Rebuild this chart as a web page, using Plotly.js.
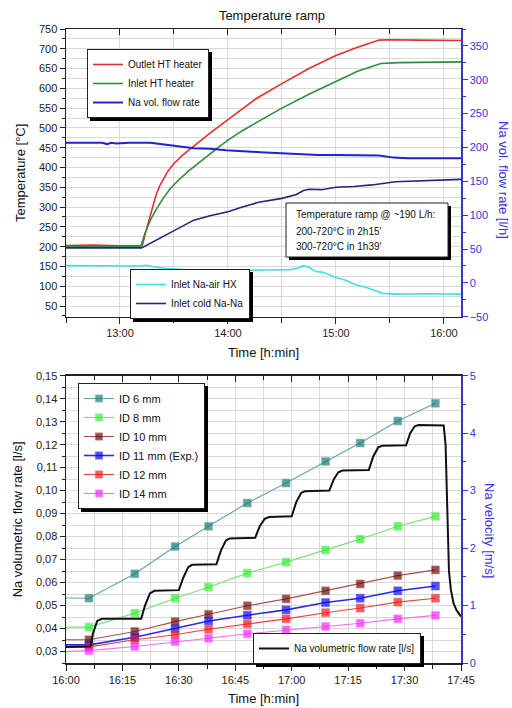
<!DOCTYPE html>
<html><head><meta charset="utf-8">
<script src="https://cdn.plot.ly/plotly-3.0.1.min.js"></script>
<style>html,body{margin:0;padding:0;background:#fff}#chart{width:512px;height:708px}</style>
</head><body><div id="chart"></div>
<script>
// ---------- DATA ----------
// Top chart: temperature ramp (time h:min, value)
const redTimes   = ['12:30','12:45','13:00','13:12:24','13:14','13:16','13:18','13:20','13:22','13:24','13:26','13:28','13:30','13:35','13:40','13:50','14:00','14:08','14:16','14:30','14:45','15:00','15:12','15:24','15:30','15:45','16:10'];
const redVals    = [203,204,202,203,232,265,300,330,353,371,386,399,410,432,451,487,521,549,575,612,650,683,704,722,723,722,721];
const greenTimes = ['12:30','12:45','13:00','13:11:30','13:14','13:17','13:20','13:24','13:28','13:32','13:38','13:44','13:50','13:55','14:00','14:08','14:16','14:30','14:45','15:00','15:12','15:25','15:35','16:10'];
const greenVals  = [200,200,200,200,235,268,293,322,347,366,391,413,435,452,469,493,514,550,585,618,643,663,665,667];
const flowTimes  = ['12:30','12:40','12:50','12:53','12:55','12:58','13:05','13:17','13:25','13:35','13:41','13:50','13:59','14:18','14:35','14:50','15:00','15:12','15:24','15:32','15:40','16:10'];
const flowVals   = [207,207,207,205,207,206,207,207,204,201,199,198,196,193,191,189,189,188,188,185,184,184];
const cyanTimes  = ['12:30','12:45','13:00','13:10','13:15','13:18','13:25','13:35','13:45','14:00','14:20','14:35','14:39','14:42','14:45','14:49','14:53','15:00','15:05','15:11','15:17','15:22','15:26','15:33','15:50','16:10'];
const cyanVals   = [152,151,150,151,153,150,145,142,141,140,141,142,146,152,148,137,135,122,116,104,97,89,82,80,81,80];
const navyTimes  = ['12:30','12:50','13:00','13:12','13:20','13:30','13:41','13:50','14:00','14:08','14:17','14:30','14:38','14:42','14:45','14:52','15:00','15:10','15:20','15:33','15:45','16:10'];
const navyVals   = [197,196,197,197,216,240,267,278,288,300,312,322,332,342,345,344,350,352,356,364,366,370];

// Bottom chart: flow rate per pipe ID (l/s)
const idTimes = ['16:00','16:06:06','16:18:18','16:29','16:37:54','16:48:12','16:58:30','17:09','17:18:12','17:28:12','17:38:12'];
const id6  = [0.0533,0.0532,0.0638,0.0757,0.0845,0.0946,0.1033,0.1127,0.1207,0.1303,0.1380];
const id8  = [0.0406,0.0406,0.0467,0.0532,0.0580,0.0641,0.0689,0.0742,0.0789,0.0845,0.0888];
const id10 = [0.0351,0.0351,0.0387,0.0430,0.0462,0.0499,0.0529,0.0564,0.0594,0.0630,0.0655];
const id11 = [0.0329,0.0329,0.0362,0.0399,0.0433,0.0458,0.0481,0.0513,0.0532,0.0564,0.0585];
const id12 = [0.0319,0.0320,0.0351,0.0373,0.0397,0.0420,0.0442,0.0469,0.0489,0.0515,0.0532];
const id14 = [0.0300,0.0304,0.0322,0.0343,0.0358,0.0377,0.0394,0.0409,0.0423,0.0442,0.0457];
const idMarkerSizes = [0,8,8,8,8,8,8,8,8,8,8];

const blackTimes = ['16:00','16:06:30','16:07:12','16:08:18','16:09:30','16:20:00','16:21:00','16:22:18','16:23:30','16:30:00','16:31:12','16:32:30','16:33:30','16:40:00','16:41:12','16:42:30','16:43:30','16:50:18','16:51:30','16:52:48','16:54:00','17:00:00','17:01:12','17:02:30','17:03:30','17:10:00','17:11:12','17:12:24','17:13:30','17:20:30','17:21:42','17:23:00','17:24:00','17:30:24','17:31:30','17:32:42','17:33:42','17:40:24','17:40:54','17:41:24','17:41:48','17:42:18','17:43:00','17:43:48','17:45:00'];
const blackVals  = [0.0320,0.0322,0.0380,0.0433,0.0442,0.0443,0.0500,0.0553,0.0564,0.0567,0.0622,0.0667,0.0677,0.0680,0.0740,0.0783,0.0792,0.0795,0.0845,0.0877,0.0885,0.0888,0.0950,0.0990,0.0997,0.1000,0.1050,0.1080,0.1087,0.1090,0.1150,0.1188,0.1195,0.1197,0.1250,0.1280,0.1285,0.1283,0.1200,0.0850,0.0650,0.0570,0.0510,0.0480,0.0452];

const topLabels = {title:'Temperature ramp', x:'Time [h:min]', yLeft:'Temperature [°C]', yRight:'Na vol. flow rate [l/h]'};
const botLabels = {x:'Time [h:min]', yLeft:'Na volumetric flow rate [l/s]', yRight:'Na velocity [m/s]'};
const noteLines = ['Temperature ramp @ ~190 L/h:', "200-720°C in 2h15'", "300-720°C in 1h39'"];

// ---------- HELPERS ----------
const DAY = '2000-01-01 ';
const T = a => a.map(t => DAY + t);
const FONT = 'Liberation Sans, Arial, sans-serif';
const BLUE = '#3535d6';
const M = {l:66, r:51, t:29, b:45};
const PW = 512 - M.l - M.r, PH = 708 - M.t - M.b;
const px2x = px => (px - M.l) / PW;
const py2y = py => (708 - M.b - py) / PH;

const axFont = {family: FONT, size: 11, color: '#222'};
const titleFont = {family: FONT, size: 13, color: '#111'};
const GRID = '#d9d9d9';

// legend boxes (pixel placement; sizes are those Plotly gives for these fonts)
const legendBoxes = {
  legend:  {left:87,  top:49,  w:121, h:68},
  legend2: {left:130, top:269, w:119, h:49},
  legend3: {left:78,  top:383, w:126, h:125},
  legend4: {left:253, top:633, w:167, h:30},
};
const SH = 3; // shadow offset

// ---------- TRACES ----------
const traces = [
  {x:T(redTimes), y:redVals, name:'Outlet HT heater', mode:'lines', line:{color:'#e3302e', width:1.6}, xaxis:'x', yaxis:'y', legend:'legend'},
  {x:T(greenTimes), y:greenVals, name:'Inlet HT heater', mode:'lines', line:{color:'#2e8c3c', width:1.6}, xaxis:'x', yaxis:'y', legend:'legend'},
  {x:T(flowTimes), y:flowVals, name:'Na vol. flow rate', mode:'lines', line:{color:'#2222d2', width:2}, xaxis:'x', yaxis:'y2', legend:'legend'},
  {x:T(cyanTimes), y:cyanVals, name:'Inlet Na-air HX', mode:'lines', line:{color:'#3fe0e4', width:1.6}, xaxis:'x', yaxis:'y', legend:'legend2'},
  {x:T(navyTimes), y:navyVals, name:'Inlet cold Na-Na', mode:'lines', line:{color:'#25257f', width:1.6}, xaxis:'x', yaxis:'y', legend:'legend2'},
];
const idSeries = [
  ['ID 6 mm', id6, '#1a7b78', '#5fa5a3'],
  ['ID 8 mm', id8, '#2ef02e', '#7be07b'],
  ['ID 10 mm', id10, '#6e0808', '#a85050'],
  ['ID 11 mm (Exp.)', id11, '#0a0aee', '#2a2ae8'],
  ['ID 12 mm', id12, '#f01818', '#e84040'],
  ['ID 14 mm', id14, '#ff22ff', '#ee70ee'],
];
idSeries.forEach(([name, vals, mc, lc]) => {
  traces.push({x:T(idTimes), y:vals, name, mode:'lines+markers',
    line:{color:lc, width: name.indexOf('11') >= 0 ? 1.6 : 1.1},
    marker:{symbol:'square', size:idMarkerSizes, color:mc, line:{color:lc, width:0.6}},
    xaxis:'x2', yaxis:'y3', legend:'legend3'});
});
traces.push({x:T(blackTimes), y:blackVals, name:'Na volumetric flow rate [l/s]', mode:'lines', line:{color:'#111', width:2}, xaxis:'x2', yaxis:'y3', legend:'legend4'});
// empty traces so the overlay axes get drawn
traces.push({x:[], y:[], xaxis:'x2', yaxis:'y4', showlegend:false, hoverinfo:'skip'});
traces.push({x:[], y:[], xaxis:'x3', yaxis:'y', showlegend:false, hoverinfo:'skip'});
traces.push({x:[], y:[], xaxis:'x4', yaxis:'y3', showlegend:false, hoverinfo:'skip'});

// ---------- LAYOUT ----------
const topDom = [py2y(316.7), 1];
const botDom = [0, py2y(375.7)];
const lineAx = {showline:true, linecolor:'#222', linewidth:1.5, zeroline:false, tickcolor:'#222', tickwidth:1, tickfont:axFont};
const legendBase = {bgcolor:'#fff', bordercolor:'#222', borderwidth:1, xanchor:'left', yanchor:'top', itemwidth:30, font:{family:FONT, size:10, color:'#111'}};

const rectPx = (x0, y0, x1, y1, style) => Object.assign({type:'rect', xref:'paper', yref:'paper', x0:px2x(x0), x1:px2x(x1), y0:py2y(y0), y1:py2y(y1), layer:'above'}, style);
const shadowStyle = {fillcolor:'#000', line:{width:0}};

const shapes = [];
shapes.push(rectPx(289, 206, 451, 260, shadowStyle));
shapes.push(rectPx(286, 203, 448, 257, {fillcolor:'#fff', line:{color:'#222', width:1}}));
// legend drop shadows as two strips just outside each legend box
Object.values(legendBoxes).forEach(b => {
  const R = Math.round(b.left + b.w + 1), B = Math.round(b.top + b.h + 1);
  shapes.push(rectPx(R, b.top + SH, R + SH, B + SH, shadowStyle));
  shapes.push(rectPx(b.left + SH, B, R + SH, B + SH, shadowStyle));
});

const annotations = [
  {text:topLabels.yRight, textangle:90, xref:'paper', yref:'paper', x:px2x(503), y:py2y(180), showarrow:false, xanchor:'center', yanchor:'middle', font:{family:FONT, size:13, color:BLUE}},
  {text:botLabels.yRight, textangle:90, xref:'paper', yref:'paper', x:px2x(490), y:py2y(530), showarrow:false, xanchor:'center', yanchor:'middle', font:{family:FONT, size:13, color:BLUE}},
];
noteLines.forEach((t, i) => annotations.push({text:t, xref:'paper', yref:'paper', x:px2x(294), y:py2y(215 + 16*i), showarrow:false, xanchor:'left', yanchor:'middle', font:{family:FONT, size:10, color:'#111'}}));

const legendPos = id => ({x:px2x(legendBoxes[id].left), y:py2y(legendBoxes[id].top)});

const layout = {
  width:512, height:708, margin:M, paper_bgcolor:'#fff', plot_bgcolor:'#fff',
  separators:',.', showlegend:true, font:{family:FONT},
  title:{text:topLabels.title, x:267/512, xanchor:'center', xref:'paper', y:1-15/708, yref:'container', yanchor:'middle', font:titleFont},
  xaxis:Object.assign({}, lineAx, {type:'date', domain:[0,1], anchor:'y', range:[DAY+'12:30', DAY+'16:09:30'], tickformat:'%H:%M', dtick:3600000, tick0:DAY+'13:00', ticks:'outside', ticklen:6, showgrid:true, gridcolor:GRID,
    minor:{dtick:1800000, showgrid:true, gridcolor:GRID, ticks:'outside', ticklen:5, tickcolor:'#222'},
    title:{text:topLabels.x, font:titleFont, standoff:9}}),
  xaxis3:Object.assign({}, lineAx, {type:'date', overlaying:'x', side:'top', anchor:'y', range:[DAY+'12:30', DAY+'16:09:30'], dtick:3600000, tick0:DAY+'13:00', ticks:'inside', ticklen:6, showticklabels:false, showgrid:false,
    minor:{dtick:1800000, ticks:'inside', ticklen:5, tickcolor:'#222'}}),
  yaxis:Object.assign({}, lineAx, {domain:topDom, anchor:'x', range:[23,750], dtick:50, tick0:0, ticks:'outside', ticklen:5, showgrid:true, gridcolor:GRID,
    minor:{dtick:25, showgrid:true, gridcolor:GRID, ticks:'outside', ticklen:3, tickcolor:'#222'},
    title:{text:topLabels.yLeft, font:titleFont, standoff:10}}),
  yaxis2:Object.assign({}, lineAx, {overlaying:'y', side:'right', anchor:'x', range:[-50,375], dtick:50, tick0:0, ticks:'outside', ticklen:5, showgrid:false,
    linecolor:BLUE, tickcolor:BLUE, tickfont:{family:FONT, size:11, color:BLUE},
    minor:{dtick:25, ticks:'outside', ticklen:3, tickcolor:BLUE}}),
  xaxis2:Object.assign({}, lineAx, {type:'date', domain:[0,1], anchor:'y3', range:[DAY+'16:00', DAY+'17:45'], tickformat:'%H:%M', dtick:900000, tick0:DAY+'16:00', ticks:'outside', ticklen:6, showgrid:true, gridcolor:GRID,
    minor:{dtick:450000, showgrid:true, gridcolor:GRID, ticks:'outside', ticklen:4, tickcolor:'#222'},
    title:{text:botLabels.x, font:titleFont, standoff:9}}),
  xaxis4:Object.assign({}, lineAx, {type:'date', overlaying:'x2', side:'top', anchor:'y3', range:[DAY+'16:00', DAY+'17:45'], dtick:900000, tick0:DAY+'16:00', ticks:'inside', ticklen:6, showticklabels:false, showgrid:false,
    minor:{dtick:450000, ticks:'inside', ticklen:4, tickcolor:'#222'}}),
  yaxis3:Object.assign({}, lineAx, {domain:botDom, anchor:'x2', range:[0.025,0.15], dtick:0.01, tick0:0, tickformat:'.2f', ticks:'outside', ticklen:5, showgrid:true, gridcolor:GRID,
    minor:{dtick:0.005, showgrid:true, gridcolor:GRID, ticks:'outside', ticklen:3, tickcolor:'#222'},
    title:{text:botLabels.yLeft, font:titleFont, standoff:10}}),
  yaxis4:Object.assign({}, lineAx, {overlaying:'y3', side:'right', anchor:'x2', range:[0,5], dtick:1, tick0:0, ticks:'outside', ticklen:5, showgrid:false,
    linecolor:BLUE, tickcolor:BLUE, tickfont:{family:FONT, size:11, color:BLUE},
    minor:{dtick:0.5, ticks:'outside', ticklen:3, tickcolor:BLUE}}),
  legend: Object.assign({}, legendBase, legendPos('legend')),
  legend2:Object.assign({}, legendBase, legendPos('legend2')),
  legend3:Object.assign({}, legendBase, legendPos('legend3'), {font:{family:FONT, size:11, color:'#111'}}),
  legend4:Object.assign({}, legendBase, legendPos('legend4')),
  shapes: shapes,
  annotations: annotations,
};

Plotly.newPlot('chart', traces, layout, {staticPlot:true, displayModeBar:false});
</script></body></html>
